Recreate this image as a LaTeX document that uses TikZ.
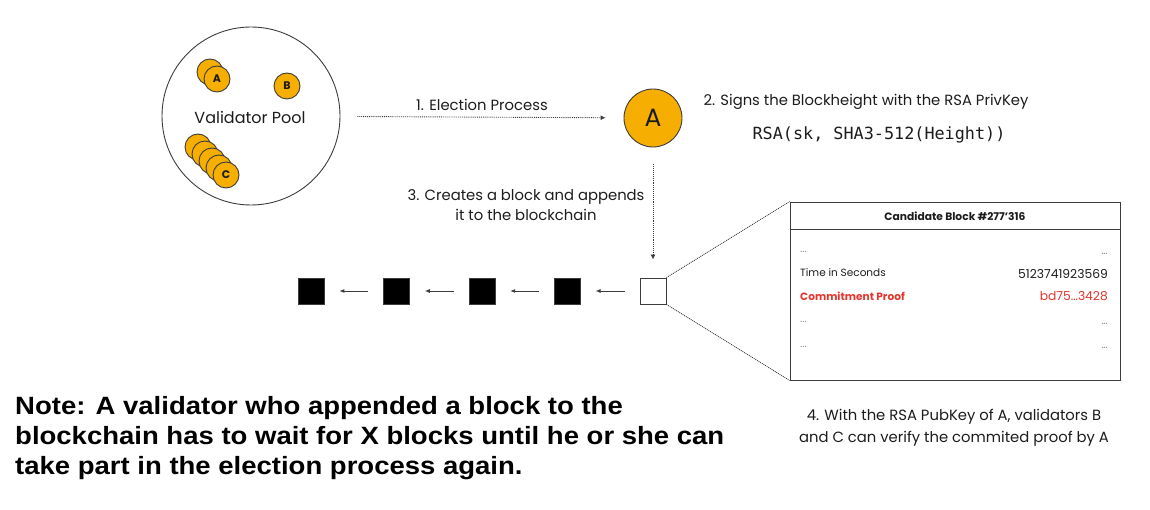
\documentclass[tikz,border=0pt]{standalone}
\usepackage{fontspec}
\setmainfont{Poppins}
\setmonofont{DejaVu Sans Mono}
\newfontfamily\notefont[FakeStretch=1.1]{Liberation Sans}
\usepackage{tikz}
\usetikzlibrary{positioning,arrows.meta,calc}
\definecolor{vpink}{HTML}{1C1C1C}
\definecolor{vpgold}{HTML}{F6AE00}
\definecolor{vpline}{HTML}{3C3C3C}
\definecolor{vpred}{HTML}{E2362E}
\definecolor{vpgrey}{HTML}{8A8A8A}
\tikzset{
  coin/.style={circle,draw=vpline,fill=vpgold,line width=0.9pt,minimum size=26pt,inner sep=0pt,font=\fontsize{11}{11}\selectfont\bfseries,text=vpink},
  bigcoin/.style={coin,minimum size=58pt,font=\fontsize{25}{25}\selectfont},
  blk/.style={draw=vpline,fill=black,minimum size=26pt,inner sep=0pt},
  newblk/.style={blk,fill=white,line width=0.9pt},
  lbl/.style={font=\fontsize{14.8}{20}\selectfont,text=vpink,align=center},
  row/.style={font=\fontsize{10.5}{12}\selectfont,text=vpink,inner sep=0pt},
  val/.style={row,anchor=east,font=\fontsize{12.3}{13}\selectfont},
  dotlnk/.style={densely dotted,line width=0.9pt,draw=vpline,-{Latex[length=5pt,width=5pt]}},
  chainlnk/.style={line width=0.9pt,draw=vpline,-{Latex[length=5pt,width=4pt]}},
  zoomlnk/.style={densely dotted,line width=0.9pt,draw=vpline},
}
\begin{document}
\begin{tikzpicture}[x=1pt,y=-1pt,node distance=59pt]
  \useasboundingbox (0,0) rectangle (1150,510);

  % validator pool
  \node[circle,draw=vpline,line width=0.9pt,minimum size=178pt] (pool) at (251,116) {};
  \node[font=\fontsize{16}{16}\selectfont,text=vpink] (poolname) at (250,117) {Validator Pool};
  \node[coin] (a0) at (210,72) {};
  \node[coin] (a1) at (217,79) {A};
  \node[coin] (b) at (287,86) {B};
  \node[coin] (c0) at (198,147) {};
  \node[coin] (c1) at (205,154) {};
  \node[coin] (c2) at (212,161) {};
  \node[coin] (c3) at (219,168) {};
  \node[coin] (c4) at (226,175) {C};

  % elected validator
  \node[bigcoin] (elect) at (653,118) {A};
  \draw[dotlnk,shorten <=17pt,shorten >=18pt] (pool) -- (elect)
    node[lbl,midway,above=3pt] {1. Election Process};
  \node[lbl,anchor=west] (sign) at (700,102) {2. Signs the Blockheight with the RSA PrivKey};
  \node[font=\ttfamily\fontsize{16.8}{18}\selectfont,text=vpink] (rsa) at (879,135) {RSA(sk, SHA3-512(Height))};

  % chain
  \node[newblk] (new) at (653,291) {};
  \node[blk,left=of new] (b4) {};
  \node[blk,left=of b4] (b3) {};
  \node[blk,left=of b3] (b2) {};
  \node[blk,left=of b2] (b1) {};
  \draw[chainlnk,shorten <=15pt,shorten >=15pt] (new) -- (b4);
  \draw[chainlnk,shorten <=15pt,shorten >=15pt] (b4) -- (b3);
  \draw[chainlnk,shorten <=15pt,shorten >=15pt] (b3) -- (b2);
  \draw[chainlnk,shorten <=15pt,shorten >=15pt] (b2) -- (b1);
  \draw[dotlnk,shorten <=17pt,shorten >=18pt] (elect) -- (new);
  \node[lbl] (append) at (526,205) {3. Creates a block and appends\\it to the blockchain};

  % candidate block
  \node[draw=vpline,line width=0.9pt,minimum width=330pt,minimum height=178pt,inner sep=0pt] (card) at (955,291) {};
  \draw[vpline,line width=0.9pt] ($(card.north west)+(0,28)$) -- ($(card.north east)+(0,28)$);
  \node[row,font=\fontsize{10.7}{12}\selectfont\bfseries] (head) at (955,216) {Candidate Block \#277'316};
  \node[row,anchor=west,text=vpgrey] (l1) at (800,252) {...};
  \node[row,anchor=east,text=vpgrey] (r1) at (1108,254) {…};
  \node[row,anchor=west] (l2) at (800,273) {Time in Seconds};
  \node[val] (r2) at (1108,274) {5123741923569};
  \node[row,anchor=west,text=vpred,font=\fontsize{10.6}{12}\selectfont\bfseries] (l3) at (800,296) {Commitment Proof};
  \node[val,text=vpred] (r3) at (1108,296) {bd75…3428};
  \node[row,anchor=west,text=vpgrey] (l4) at (800,322) {...};
  \node[row,anchor=east,text=vpgrey] (r4) at (1108,324) {…};
  \node[row,anchor=west,text=vpgrey] (l5) at (800,347) {...};
  \node[row,anchor=east,text=vpgrey] (r5) at (1108,348) {…};
  \draw[zoomlnk] (new.north east) -- (card.north west);
  \draw[zoomlnk] (new.south east) -- (card.south west);
  \node[lbl,font=\fontsize{14.8}{22}\selectfont] (verify) at (954,428) {4. With the RSA PubKey of A, validators B\\and C can verify the commited proof by A};

  % note
  \node[anchor=north west,align=left,inner sep=0pt,font=\notefont\bfseries\fontsize{25}{30}\selectfont,text=black] (note) at (15,396)
    {Note: A validator who appended a block to the\\blockchain has to wait for X blocks until he or she can\\take part in the election process again.};
\end{tikzpicture}
\end{document}
